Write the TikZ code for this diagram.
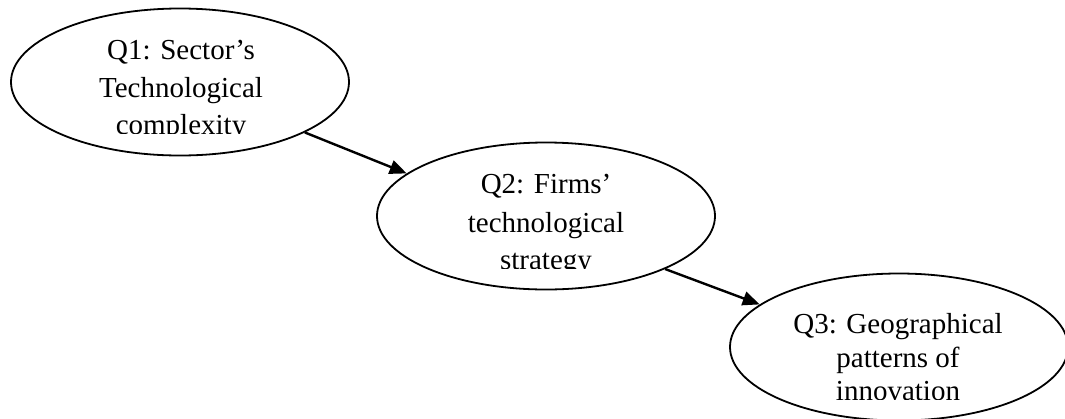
\documentclass[tikz,border=0pt]{standalone}
\usepackage{fontspec}
\setmainfont{Liberation Serif}
\usetikzlibrary{shapes.geometric,arrows.meta}
\begin{document}
\begin{tikzpicture}[x=1pt,y=-1pt,
  oval/.style={draw=black,line width=1.8pt,ellipse,minimum width=338pt,minimum height=147pt,inner sep=0pt},
  txt/.style={anchor=base,inner sep=0pt,font=\fontsize{29}{34}\selectfont},
  link/.style={line width=2.4pt,-{Triangle[length=17pt,width=14pt]}}]
\useasboundingbox (0,0) rectangle (1065,418);
\fill[white] (0,0) rectangle (1065,418);
\node[oval] (e1) at (180,82) {};
\node[oval] (e2) at (546,216) {};
\node[oval] (e3) at (899,347) {};
\begin{scope}
  \clip (0,0) rectangle (360,133);
  \node[txt] (t11) at (181,59) {Q1: Sector’s};
  \node[txt] (t12) at (181,97) {Technological};
  \node[txt] (t13) at (181,134) {complexity};
\end{scope}
\begin{scope}
  \clip (370,140) rectangle (720,268);
  \node[txt] (t21) at (546,193) {Q2: Firms’};
  \node[txt] (t22) at (546,232) {technological};
  \node[txt] (t23) at (546,269) {strategy};
\end{scope}
\begin{scope}
  \clip (725,270) rectangle (1065,399);
  \node[txt] (t31) at (898,333) {Q3: Geographical};
  \node[txt] (t32) at (898,367) {patterns of};
  \node[txt] (t33) at (898,400) {innovation};
\end{scope}
\draw[link] (e1.-22.7) -- (e2.163.8);
\draw[link] (e2.-24) -- (e3.163.7);
\end{tikzpicture}
\end{document}
